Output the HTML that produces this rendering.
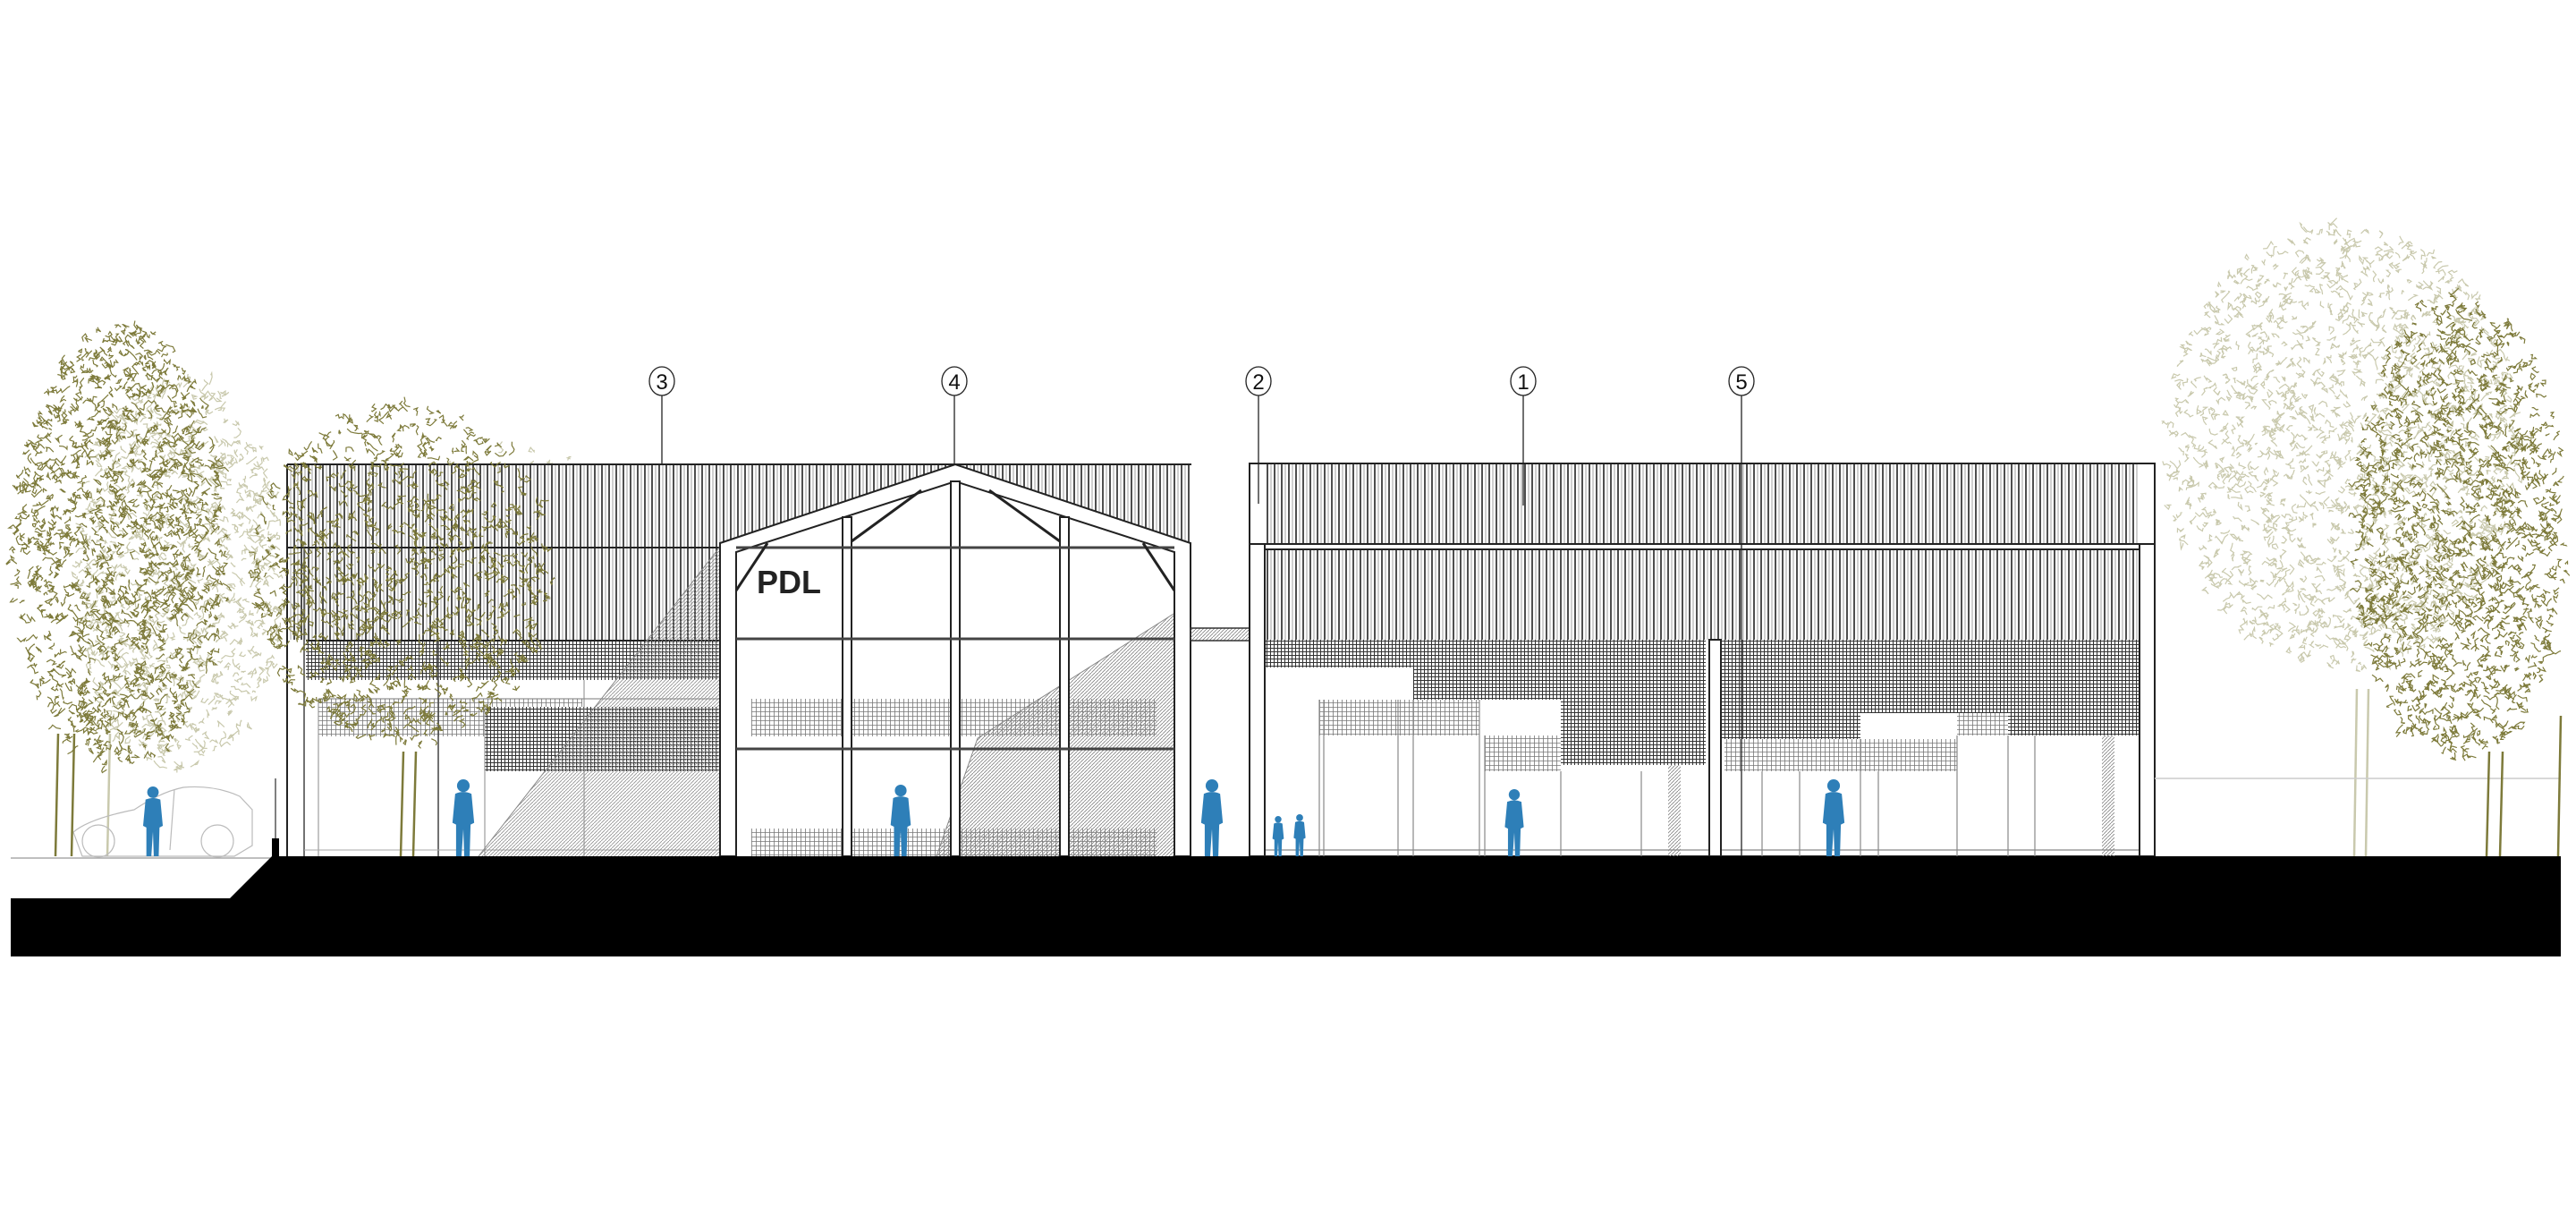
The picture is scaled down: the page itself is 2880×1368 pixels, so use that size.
<!DOCTYPE html>
<html><head><meta charset="utf-8"><style>
html,body{margin:0;padding:0;background:#fff;width:2880px;height:1368px;overflow:hidden}
svg{display:block}
text{font-family:"Liberation Sans",sans-serif}
</style></head><body>
<svg id="s" width="2880" height="1368" viewBox="0 0 2880 1368" xmlns="http://www.w3.org/2000/svg">
<defs>
<pattern id="vh" width="8" height="10" patternUnits="userSpaceOnUse"><rect width="8" height="10" fill="#fff"/><line x1="1" y1="0" x2="1" y2="10" stroke="#222" stroke-width="1.6"/><line x1="5" y1="0" x2="5" y2="10" stroke="#888" stroke-width="0.8"/></pattern>
<pattern id="mesh" width="4" height="4" patternUnits="userSpaceOnUse"><rect width="4" height="4" fill="#fff"/><path d="M0 0.5H4M0.5 0V4" stroke="#333" stroke-width="1"/></pattern>
<pattern id="meshL" width="5" height="5" patternUnits="userSpaceOnUse"><rect width="5" height="5" fill="#fff"/><path d="M0 0.5H5M0.5 0V5" stroke="#777" stroke-width="0.8"/></pattern>
<pattern id="dg" width="4" height="4" patternUnits="userSpaceOnUse"><path d="M0 4L4 0" stroke="#888" stroke-width="0.9"/></pattern>
</defs>

<g id="treesBack"></g>

<!-- ===== LEFT BUILDING ===== -->
<rect x="321" y="519" width="1011" height="438" fill="#fff"/>
<rect x="321" y="519" width="1011" height="196" fill="url(#vh)"/>
<line x1="321" y1="519" x2="1332" y2="519" stroke="#222" stroke-width="2"/>
<line x1="321" y1="612" x2="1332" y2="612" stroke="#222" stroke-width="2"/>
<line x1="321" y1="519" x2="321" y2="957" stroke="#222" stroke-width="2"/>
<line x1="340" y1="612" x2="340" y2="957" stroke="#444" stroke-width="1.5"/>
<rect x="342" y="716" width="463" height="44" fill="url(#mesh)"/>
<line x1="342" y1="716" x2="805" y2="716" stroke="#222" stroke-width="2"/>
<rect x="356" y="781" width="295" height="42" fill="url(#meshL)"/>
<rect x="542" y="790" width="263" height="72" fill="url(#mesh)"/>
<rect x="342" y="760" width="463" height="20" fill="#fff"/>
<line x1="356" y1="781" x2="805" y2="781" stroke="#777"/>
<line x1="490" y1="715" x2="490" y2="957" stroke="#444" stroke-width="1.5"/>
<line x1="542" y1="790" x2="542" y2="957" stroke="#888"/>
<line x1="653" y1="760" x2="653" y2="957" stroke="#888"/>
<line x1="356" y1="781" x2="356" y2="957" stroke="#888"/>
<line x1="340" y1="950" x2="805" y2="950" stroke="#aaa"/>
<polygon points="535,957 805,611 805,957" fill="url(#dg)" opacity="0.9"/>
<line x1="535" y1="957" x2="805" y2="611" stroke="#888"/>

<polygon points="805,607 1068,519 1331,607 1331,957 805,957" fill="#fff"/>
<rect x="840" y="781" width="453" height="42" fill="url(#meshL)"/>
<rect x="840" y="926" width="453" height="31" fill="url(#meshL)"/>
<polygon points="1047,957 1093,825 1331,674 1331,957" fill="url(#dg)"/>
<line x1="1047" y1="957" x2="1093" y2="825" stroke="#888"/><line x1="1093" y1="825" x2="1331" y2="674" stroke="#888"/>
<g stroke="#222" stroke-width="2" fill="#fff">
<polygon points="805,607 1068,519 1331,607 1331,957 1313,957 1313,617 1068,538 823,617 823,957 805,957"/>
<rect x="942" y="578" width="10" height="379"/>
<rect x="1063" y="538" width="10" height="419"/>
<rect x="1185" y="578" width="10" height="379"/>
</g>
<g stroke="#444" stroke-width="3">
<line x1="823" y1="612" x2="1313" y2="612"/>
<line x1="823" y1="714" x2="1313" y2="714"/>
<line x1="823" y1="837" x2="1313" y2="837"/>
</g>
<g stroke="#222" stroke-width="3">
<line x1="952" y1="605" x2="1030" y2="548"/><line x1="1185" y1="605" x2="1106" y2="548"/>
<line x1="1313" y1="660" x2="1278" y2="607"/><line x1="823" y1="660" x2="858" y2="607"/>
</g>
<text x="846" y="663" font-size="36" font-weight="bold" fill="#222">PDL</text>

<rect x="1331" y="702" width="66" height="14" fill="url(#dg)" stroke="#333" stroke-width="1.5"/>

<!-- ===== RIGHT BUILDING ===== -->
<rect x="1397" y="518" width="1012" height="439" fill="#fff"/>
<rect x="1414" y="518" width="978" height="197" fill="url(#vh)"/>
<rect x="1414" y="608" width="978" height="6" fill="#fff"/>
<g stroke="#222" stroke-width="2" fill="none">
<rect x="1397" y="518" width="1012" height="439"/>
<line x1="1397" y1="608" x2="2409" y2="608"/><line x1="1414" y1="614" x2="2392" y2="614"/>
</g>
<rect x="1414" y="715" width="166" height="31" fill="url(#mesh)"/>
<rect x="1580" y="715" width="165" height="67" fill="url(#mesh)"/>
<rect x="1745" y="715" width="162" height="140" fill="url(#mesh)"/>
<rect x="1924" y="715" width="156" height="111" fill="url(#mesh)"/>
<rect x="2080" y="715" width="165" height="82" fill="url(#mesh)"/>
<rect x="2245" y="715" width="147" height="107" fill="url(#mesh)"/>
<rect x="1475" y="782" width="179" height="40" fill="url(#meshL)"/>
<rect x="1660" y="822" width="85" height="40" fill="url(#meshL)"/>
<rect x="1928" y="826" width="260" height="36" fill="url(#meshL)"/>
<rect x="2188" y="797" width="57" height="25" fill="url(#meshL)"/>
<rect x="1865" y="855" width="14" height="102" fill="url(#dg)"/>
<rect x="2350" y="822" width="14" height="135" fill="url(#dg)"/>
<g stroke="#888" stroke-width="1.2">
<line x1="1475" y1="782" x2="1475" y2="957"/><line x1="1480" y1="782" x2="1480" y2="957"/>
<line x1="1563" y1="782" x2="1563" y2="957"/><line x1="1580" y1="782" x2="1580" y2="957"/>
<line x1="1654" y1="782" x2="1654" y2="957"/><line x1="1660" y1="822" x2="1660" y2="957"/>
<line x1="1745" y1="862" x2="1745" y2="957"/><line x1="1835" y1="862" x2="1835" y2="957"/>
<line x1="1970" y1="862" x2="1970" y2="957"/><line x1="2012" y1="862" x2="2012" y2="957"/>
<line x1="2080" y1="826" x2="2080" y2="957"/><line x1="2100" y1="862" x2="2100" y2="957"/>
<line x1="2188" y1="822" x2="2188" y2="957"/><line x1="2245" y1="822" x2="2245" y2="957"/>
<line x1="2275" y1="822" x2="2275" y2="957"/><line x1="1414" y1="950" x2="2392" y2="950"/>
</g>
<g stroke="#222" stroke-width="2" fill="#fff">
<rect x="1397" y="608" width="17" height="349"/>
<rect x="1911" y="715" width="13" height="242"/>
<rect x="2392" y="608" width="17" height="349"/>
</g>

<g stroke="#222" stroke-width="1.3" fill="#fff">
<line x1="740" y1="441" x2="740" y2="519"/>
<line x1="1067" y1="441" x2="1067" y2="519"/>
<line x1="1407" y1="441" x2="1407" y2="563"/>
<line x1="1703" y1="441" x2="1703" y2="565"/>
<line x1="1947" y1="441" x2="1947" y2="957"/>
<ellipse cx="740" cy="426" rx="14" ry="16"/><ellipse cx="1067" cy="426" rx="14" ry="16"/>
<ellipse cx="1407" cy="426" rx="14" ry="16"/><ellipse cx="1703" cy="426" rx="14" ry="16"/>
<ellipse cx="1947" cy="426" rx="14" ry="16"/>
</g>
<g font-size="24" fill="#111" text-anchor="middle">
<text x="740" y="435">3</text><text x="1067" y="435">4</text><text x="1407" y="435">2</text>
<text x="1703" y="435">1</text><text x="1947" y="435">5</text>
</g>

<g stroke="#bbb" stroke-width="1.2" fill="none">
<path d="M92 957 L82 930 Q100 915 150 905 Q180 885 205 880 Q240 877 268 890 L282 905 L282 945 L262 957 Z"/>
<circle cx="110" cy="940" r="18"/><circle cx="243" cy="940" r="18"/>
<line x1="195" y1="882" x2="190" y2="950"/>
</g>
<line x1="12" y1="959" x2="304" y2="959" stroke="#aaa" stroke-width="1.5"/>
<line x1="2409" y1="870" x2="2863" y2="870" stroke="#ccc" stroke-width="1.5"/>
<rect x="304" y="937" width="8" height="20" fill="#000"/>
<line x1="308" y1="870" x2="308" y2="937" stroke="#000"/>

<g id="treesFront"></g>
<g fill="#2e7fb8" id="ppl"></g>

<polygon points="12,1004 257,1004 304,957 2863,957 2863,1069 12,1069" fill="#000"/>
</svg>
<script>
(function(){
var s=12345;function r(){s=(s*16807)%2147483647;return s/2147483647;}
var NS="http://www.w3.org/2000/svg";
function tree(gid,cx,cy,rx,ry,n,col,sw){
 var g=document.getElementById(gid),d="";
 for(var i=0;i<n;i++){
  var a=r()*6.283,rr=Math.sqrt(r());
  var x=cx+Math.cos(a)*rx*rr,y=cy+Math.sin(a)*ry*rr;
  d+="M"+x.toFixed(1)+" "+y.toFixed(1);
  for(var k=0;k<4;k++){x+=(r()-0.5)*10;y+=(r()-0.5)*10;d+="L"+x.toFixed(1)+" "+y.toFixed(1);}
 }
 var p=document.createElementNS(NS,"path");p.setAttribute("d",d);p.setAttribute("stroke",col);
 p.setAttribute("stroke-width",sw);p.setAttribute("fill","none");g.appendChild(p);
}
function trunk(gid,x,y1,col){var g=document.getElementById(gid);var l=document.createElementNS(NS,"path");
 l.setAttribute("d","M"+x+" 957 L"+(x+3)+" "+y1);l.setAttribute("stroke",col);l.setAttribute("stroke-width","2.5");l.setAttribute("fill","none");g.appendChild(l);}
tree("treesBack",200,640,120,220,800,"#c9c9ad",1.2);
trunk("treesBack",120,820,"#c9c9ad");
tree("treesFront",135,610,120,250,1300,"#7d7a3a",1.2);
trunk("treesFront",62,820,"#7d7a3a");trunk("treesFront",80,820,"#7d7a3a");
tree("treesBack",580,660,140,160,600,"#c9c9ad",1.2);
tree("treesFront",450,640,170,190,1000,"#7d7a3a",1.2);
trunk("treesFront",448,840,"#7d7a3a");trunk("treesFront",462,840,"#7d7a3a");
tree("treesBack",2620,500,200,250,1500,"#c9c9ad",1.2);
trunk("treesBack",2632,770,"#c9c9ad");trunk("treesBack",2645,770,"#c9c9ad");
tree("treesFront",2750,590,120,260,1300,"#7d7a3a",1.2);
trunk("treesFront",2780,840,"#7d7a3a");trunk("treesFront",2795,840,"#7d7a3a");trunk("treesFront",2860,800,"#7d7a3a");
var ppl=document.getElementById("ppl");
function person(x,h){var y=957-h;var sc=h/85;
 var g=document.createElementNS(NS,"g");g.setAttribute("transform","translate("+x+","+y+") scale("+sc+")");
 g.innerHTML='<circle cx="0" cy="7" r="7"/><path d="M-9 16 Q0 12 9 16 L12 48 L8 50 L7 85 L1 85 L0 55 L-2 85 L-8 85 L-8 50 L-12 48 Z"/>';
 ppl.appendChild(g);}
person(171,78);person(518,86);person(1007,80);person(1355,86);
person(1429,45);person(1453,47);person(1693,75);person(2050,86);
})();
</script>
</body></html>
